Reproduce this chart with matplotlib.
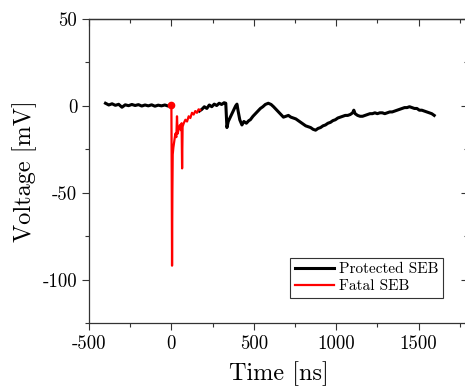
from matplotlib import pyplot as plt
import numpy as np

plt.rcParams['font.family'] = 'serif'
plt.rcParams['font.serif'] = ['cmr10', 'DejaVu Serif']
plt.rcParams['mathtext.fontset'] = 'cm'

# protected SEB trace (gap while the fatal trace is shown)
protected_t = [-400, -380, -360, -340, -320, -300, -280, -260, -240, -220, -200, -180, -160,
               -140, -120, -100, -80, -60, -40, -20, 0, 85,
               170, 185, 200, 215, 230, 245, 260, 275, 290, 305, 320, 330, 337, 345, 360, 375,
               390, 398, 405, 415, 428, 440, 455, 470, 479, 495, 510, 525, 540, 555, 570, 588,
               605, 620, 635, 650, 665, 680, 695, 710, 725, 740, 755, 770, 785, 800, 815, 830,
               845, 860, 875, 890, 905, 920, 935, 950, 965, 980, 995, 1010, 1025, 1040, 1055,
               1070, 1085, 1100, 1107, 1115, 1130, 1145, 1160, 1175, 1190, 1205, 1220, 1235,
               1250, 1265, 1280, 1295, 1310, 1325, 1340, 1355, 1370, 1385, 1400, 1415, 1430,
               1445, 1460, 1475, 1490, 1505, 1520, 1535, 1550, 1565, 1580, 1595]
protected_v = [1.5, 0.5, 1.2, 0.3, 0.9, -0.8, 0.6, 0.1, 0.8, 0.2, 0.7, -0.1, 0.5,
               0.0, 0.6, -0.2, 0.4, 0.0, 0.5, -0.1, 0.3, np.nan,
               -3.0, -2.0, -0.5, -1.5, 0.5, -0.5, 1.0, 0.2, 1.5, 0.8, 1.8, 1.5, -12.5, -9.0,
               -6.0, -3.0, 0.0, 1.0, -3.0, -8.0, -11.0, -9.0, -10.0, -8.5, -8.0, -6.0, -4.5,
               -3.0, -1.5, -0.5, 0.8, 1.5, 0.8, -0.5, -2.0, -3.5, -5.0, -6.5, -6.0, -5.5, -6.5,
               -7.0, -7.5, -8.5, -9.5, -10.5, -11.5, -12.0, -12.5, -13.5, -14.0, -13.0, -12.5,
               -11.5, -11.0, -10.0, -9.5, -8.5, -8.0, -7.0, -6.5, -6.0, -5.5, -5.5, -5.0, -4.0,
               -2.5, -4.5, -5.5, -6.0, -6.0, -5.5, -5.0, -4.5, -4.5, -4.0, -4.5, -4.0, -4.0,
               -4.5, -4.0, -3.5, -3.5, -3.0, -2.5, -2.0, -1.5, -1.0, -1.0, -0.5, -1.0, -1.5,
               -1.5, -2.5, -2.5, -3.0, -3.5, -4.0, -4.5, -5.5]

# fatal SEB trace
fatal_t = [0, 2, 4, 6, 8, 12, 18, 24, 30, 34, 38, 45, 52, 58, 62, 65, 68, 75, 85, 95,
           105, 115, 125, 135, 145, 155, 165, 175]
fatal_v = [0.5, -40, -92, -50, -28, -24, -20, -16, -18, -6, -16, -13, -11, -14, -10, -36,
           -12, -10, -8, -9, -6, -7, -4, -5, -3, -4, -2, -2.5]

xticks = [-500, 0, 500, 1000, 1500]
xminor = [-250, 250, 750, 1250, 1750]
yticks = [-100, -50, 0, 50]
yminor = [-125, -75, -25, 25]

fig = plt.figure(figsize=(4.65, 3.91), dpi=100)
ax = fig.add_axes([89 / 465, 68 / 391, 379 / 465, 304 / 391])

ax.plot(protected_t, protected_v, color='black', lw=2.2, label='Protected SEB')
ax.plot(fatal_t, fatal_v, color='red', lw=1.6, label='Fatal SEB')
ax.plot(fatal_t[:1], fatal_v[:1], 'o', color='red', ms=4.5)

ax.set_xlim(-500, 1800)
ax.set_ylim(-125, 50)
ax.set_xticks(xticks)
ax.set_xticklabels([str(t) for t in xticks])
ax.set_yticks(yticks)
ax.set_yticklabels([str(t) for t in yticks])
ax.set_xticks(xminor, minor=True)
ax.set_yticks(yminor, minor=True)
ax.tick_params(which='major', direction='out', length=5, width=0.8, labelsize=13.5,
               colors='#333333', labelcolor='black')
ax.tick_params(which='minor', direction='out', length=3, width=0.8, colors='#333333')

top = ax.secondary_xaxis('top')
top.set_xticks(xticks)
top.set_xticks(xminor, minor=True)
top.tick_params(which='major', direction='in', length=5, width=0.8, labeltop=False, colors='#333333')
top.tick_params(which='minor', direction='in', length=3, width=0.8, colors='#333333')
right = ax.secondary_yaxis('right')
right.set_yticks(yticks)
right.set_yticks(yminor, minor=True)
right.tick_params(which='major', direction='in', length=5, width=0.8, labelright=False, colors='#333333')
right.tick_params(which='minor', direction='in', length=3, width=0.8, colors='#333333')

for s in list(ax.spines.values()) + [top.spines['top'], right.spines['right']]:
    s.set_color('#333333')
    s.set_linewidth(0.9)

ax.set_xlabel('Time [ns]', fontsize=17.5, labelpad=6)
ax.set_ylabel('Voltage [mV]', fontsize=17.5, labelpad=4)

leg = ax.legend(loc='lower right', bbox_to_anchor=(0.934, 0.082), borderaxespad=0,
                fontsize=11, fancybox=False, framealpha=1, edgecolor='#333333',
                handlelength=2.6, borderpad=0.3, labelspacing=0.25, handletextpad=0.3)
leg.get_frame().set_linewidth(0.8)

fig.savefig('out.png', dpi=100)
